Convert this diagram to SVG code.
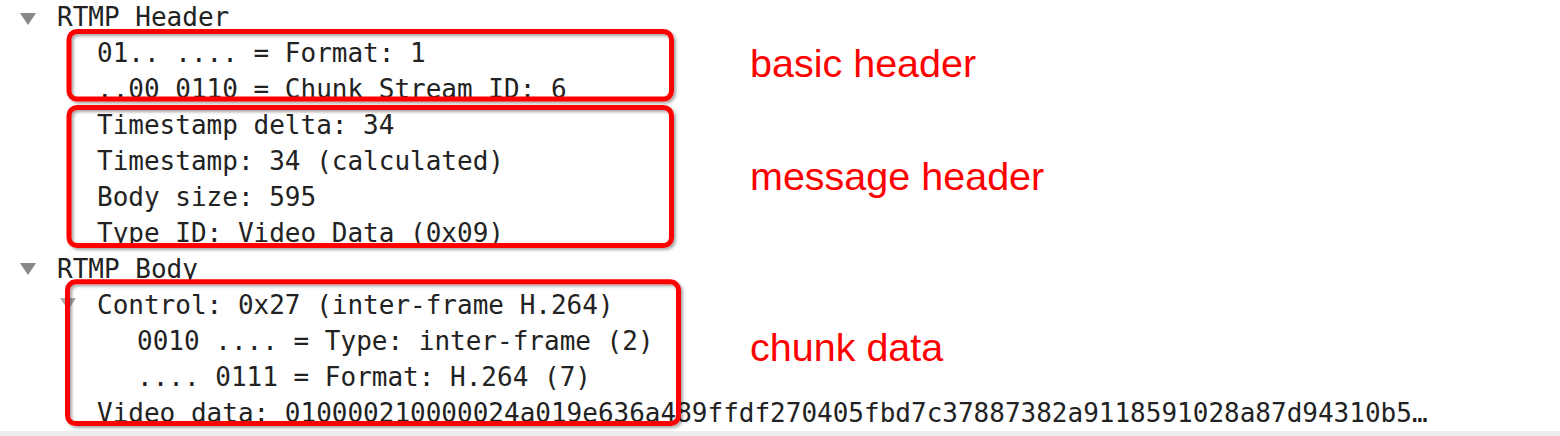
<svg xmlns="http://www.w3.org/2000/svg" width="1560" height="436" viewBox="0 0 1560 436">
<defs>
<style>
.t{font-family:"DejaVu Sans Mono","Liberation Mono",monospace;font-size:26px;fill:#222;}
.lbl{font-family:"Liberation Sans",Arial,sans-serif;font-size:39.5px;fill:#ff0000;}
.box{fill:none;stroke:#ff0000;stroke-width:5;}
.tri{fill:#888;}
</style>
<filter id="sh" x="-5%" y="-5%" width="110%" height="115%">
<feDropShadow dx="2" dy="2" stdDeviation="1.5" flood-color="#000" flood-opacity="0.35"/>
</filter>
</defs>
<rect width="1560" height="436" fill="#fff"/>
<rect x="0" y="431" width="1560" height="5" fill="#ececec"/>
<g id="tree">
<path class="tri" d="M20,13 L36,13 L28,25 Z"/>
<text class="t" x="57" y="26">RTMP Header</text>
<text class="t" x="97" y="62">01.. .... = Format: 1</text>
<text class="t" x="97" y="98">..00 0110 = Chunk Stream ID: 6</text>
<text class="t" x="97" y="134">Timestamp delta: 34</text>
<text class="t" x="97" y="170">Timestamp: 34 (calculated)</text>
<text class="t" x="97" y="206">Body size: 595</text>
<text class="t" x="97" y="242">Type ID: Video Data (0x09)</text>
<path class="tri" d="M20,263 L36,263 L28,275 Z"/>
<text class="t" x="57" y="278">RTMP Body</text>
<path d="M60,298 L76,298 L68,310 Z" fill="#aaa"/>
<text class="t" x="97" y="314">Control: 0x27 (inter-frame H.264)</text>
<text class="t" x="137" y="350">0010 .... = Type: inter-frame (2)</text>
<text class="t" x="137" y="386">.... 0111 = Format: H.264 (7)</text>
<text class="t" x="97" y="422">Video data: 010000210000024a019e636a489ffdf270405fbd7c37887382a9118591028a87d94310b5…</text>
</g>
<g id="basic-header">
<rect class="box" filter="url(#sh)" x="69" y="31.5" width="602.5" height="67.5" rx="8"/>
<text class="lbl" x="750" y="77">basic header</text>
</g>
<g id="message-header">
<rect class="box" filter="url(#sh)" x="69" y="107.5" width="602.5" height="138" rx="8"/>
<text class="lbl" x="750" y="190">message header</text>
</g>
<g id="chunk-data">
<rect class="box" filter="url(#sh)" x="67.5" y="281.8" width="611" height="141.7" rx="8"/>
<text class="lbl" x="750" y="361">chunk data</text>
</g>
<g id="connectors"></g>
</svg>
